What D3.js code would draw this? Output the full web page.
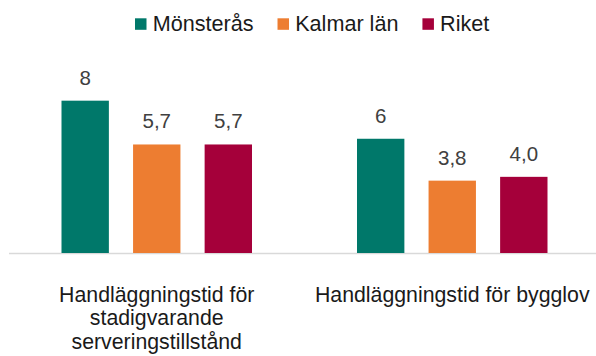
<!DOCTYPE html>
<html>
<head>
<meta charset="utf-8">
<script src="https://cdn.jsdelivr.net/npm/d3@7"></script>
<style>
  html, body { margin: 0; padding: 0; background: #fff; }
  svg { display: block; font-family: "Liberation Sans", Arial, sans-serif; }
</style>
</head>
<body>
<svg id="chart" width="596" height="356"></svg>
<script>
// Handläggningstid (veckor) per område
const categories = [
  ["Handläggningstid för", "stadigvarande", "serveringstillstånd"],
  ["Handläggningstid för bygglov"]
];
const seriesNames = ["Mönsterås", "Kalmar län", "Riket"];
const seriesColors = ["#00786A", "#ED7D31", "#A5003A"];
const seriesDecimals = [0, 1, 1];
const monsterasValues = [8, 6];
const kalmarValues = [5.7, 3.8];
const riketValues = [5.7, 4.0];
const seriesValues = [monsterasValues, kalmarValues, riketValues];

const svg = d3.select("#chart");
const baseY = 253;

const catKeys = categories.map((c, i) => i);
const x0 = d3.scaleBand().domain(catKeys).range([9, 600]).paddingInner(0).paddingOuter(0);
const groupPad = 52.5;
const x1 = d3.scaleBand().domain(d3.range(seriesNames.length))
  .range([groupPad, x0.bandwidth() - groupPad]).paddingInner(0.338).paddingOuter(0);
const y = d3.scaleLinear().domain([0, 10]).range([baseY, 62.6]);

const fmt = (v, d) => d3.format("." + d + "f")(v).replace(".", ",");

// Axis baseline
svg.append("line")
  .attr("x1", 9).attr("x2", 596)
  .attr("y1", baseY + 0.5).attr("y2", baseY + 0.5)
  .attr("stroke", "#d9d9d9").attr("stroke-width", 1.5);

// Bars and value labels
const groups = svg.selectAll("g.cat").data(catKeys).join("g")
  .attr("class", "cat")
  .attr("transform", d => `translate(${x0(d)},0)`);

seriesNames.forEach((name, si) => {
  groups.append("rect")
    .attr("x", c => x1(si))
    .attr("width", x1.bandwidth())
    .attr("y", c => y(seriesValues[si][c]))
    .attr("height", c => baseY - y(seriesValues[si][c]))
    .attr("fill", seriesColors[si]);
  groups.append("text")
    .attr("x", c => x1(si) + x1.bandwidth() / 2)
    .attr("y", c => y(seriesValues[si][c]) - 16)
    .attr("text-anchor", "middle")
    .attr("font-size", 20.5)
    .attr("fill", "#404040")
    .text(c => fmt(seriesValues[si][c], seriesDecimals[si]));
});

// Category labels
groups.append("text")
  .attr("text-anchor", "middle")
  .attr("font-size", 21.3)
  .attr("fill", "#1a1a1a")
  .each(function (c) {
    d3.select(this).selectAll("tspan").data(categories[c]).join("tspan")
      .attr("x", x0.bandwidth() / 2)
      .attr("y", (t, i) => 302 + i * 23.3)
      .text(t => t);
  });

// Legend
const legend = svg.append("g").attr("transform", "translate(135,0)");
let lx = 0;
seriesNames.forEach((name, si) => {
  const item = legend.append("g").attr("transform", `translate(${lx},0)`);
  item.append("rect").attr("x", 0).attr("y", 18.3).attr("width", 11.5).attr("height", 11.5)
    .attr("fill", seriesColors[si]);
  const t = item.append("text").attr("x", 17.7).attr("y", 30.7)
    .attr("font-size", 21.6).attr("fill", "#1a1a1a").text(name);
  lx += 17.7 + t.node().getComputedTextLength() + 24;
});
</script>
</body>
</html>
